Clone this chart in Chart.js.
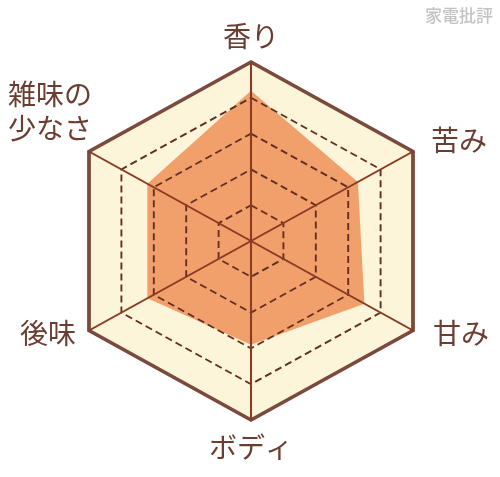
<!DOCTYPE html>
<html lang="ja">
<head>
<meta charset="utf-8">
<script src="https://cdn.jsdelivr.net/npm/chart.js@4"></script>
<style>
  html, body { margin: 0; background: #fff; }
  #wrap { position: relative; width: 500px; height: 477px; }
  #mark { position: absolute; top: 2px; right: 7px; font: 500 17px "Noto Sans CJK JP"; color: #c2c2c2; }
</style>
</head>
<body>
<div id="wrap">
  <canvas id="tasteChart" width="500" height="477"></canvas>
  <div id="mark">家電批評</div>
</div>
<script>
const axisLabels = ['香り', '苦み', '甘み', 'ボディ', '後味', ['雑味の', '少なさ']];
const scores = [4.2, 3.3, 3.5, 2.9, 3.2, 3.2];
const scaleMax = 5;
const tickStep = 1;

// the reference hexagon is a little wider than a regular one
const stretchX = 1.045;
// label offsets from a point 30px outside each vertex
const labelNudge = [[0, 4], [27, 4], [29, -12], [0, -3], [-22, -12], [-20, -25]];

const hexBackground = {
    id: 'hexBackground',
    beforeDraw(chart) {
        const ctx = chart.ctx;
        const cx = chart.scales.r.xCenter;
        ctx.save();
        ctx.translate(cx, 0);
        ctx.scale(stretchX, 1);
        ctx.translate(-cx, 0);
    },
    beforeDatasetsDraw(chart) {
        const r = chart.scales.r;
        const ctx = chart.ctx;
        ctx.save();
        ctx.beginPath();
        axisLabels.forEach((_, i) => {
            const p = r.getPointPosition(i, r.drawingArea);
            if (i === 0) ctx.moveTo(p.x, p.y); else ctx.lineTo(p.x, p.y);
        });
        ctx.closePath();
        ctx.fillStyle = '#fcf5da';
        ctx.fill();
        ctx.restore();
    },
    afterDraw(chart) {
        const r = chart.scales.r;
        const ctx = chart.ctx;
        ctx.restore();
        ctx.save();
        ctx.font = '400 28px "Noto Sans CJK JP"';
        ctx.fillStyle = '#6b3d31';
        ctx.textAlign = 'center';
        ctx.textBaseline = 'middle';
        axisLabels.forEach((label, i) => {
            const p = r.getPointPosition(i, r.drawingArea + 30);
            const lines = Array.isArray(label) ? label : [label];
            const x = p.x + labelNudge[i][0];
            const y = p.y + labelNudge[i][1] - (lines.length - 1) * 17;
            lines.forEach((line, k) => ctx.fillText(line, x, y + k * 34));
        });
        ctx.restore();
    }
};

new Chart(document.getElementById('tasteChart'), {
    type: 'radar',
    data: {
        labels: axisLabels,
        datasets: [{
            data: scores,
            backgroundColor: '#f2a06b',
            borderWidth: 0,
            pointRadius: 0,
            fill: true,
        }],
    },
    options: {
        responsive: false,
        animation: false,
        layout: { padding: { left: 72, right: 70, top: 62, bottom: 57 } },
        plugins: { legend: { display: false }, tooltip: { enabled: false } },
        scales: {
            r: {
                min: 0,
                max: scaleMax,
                ticks: { stepSize: tickStep, display: false, z: 1 },
                pointLabels: { display: false },
                grid: {
                    z: 1,
                    circular: false,
                    color: c => c.tick && c.tick.value === scaleMax ? '#7a4a3d' : '#632f22',
                    lineWidth: c => c.tick && c.tick.value === scaleMax ? 3.6 : 1.8,
                },
                border: { dash: c => c.tick && c.tick.value === scaleMax ? [] : [7, 4] },
                angleLines: { color: '#8a3b24', lineWidth: 2 },
            },
        },
    },
    plugins: [hexBackground],
});
</script>
</body>
</html>
